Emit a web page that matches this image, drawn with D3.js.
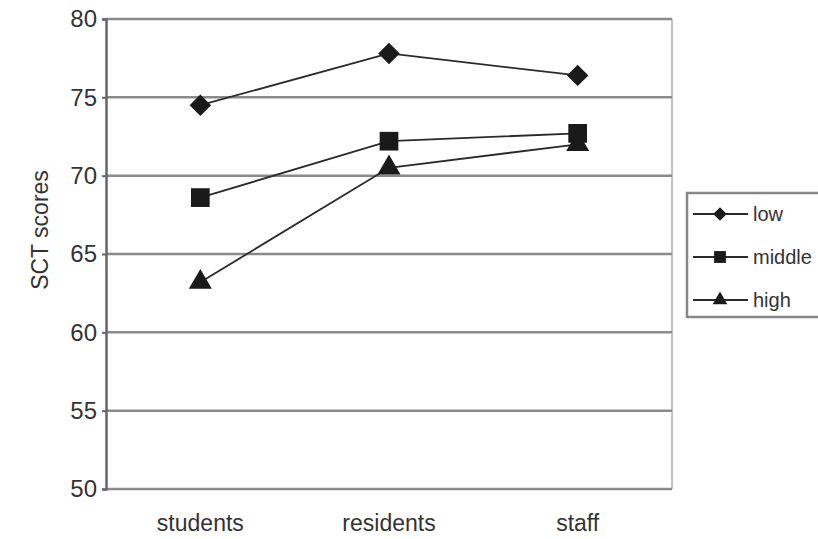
<!DOCTYPE html>
<html>
<head>
<meta charset="utf-8">
<script src="https://cdn.jsdelivr.net/npm/d3@7"></script>
<style>
  body { margin: 0; background: #fff; }
  text { font-family: "Liberation Sans", Arial, sans-serif; fill: #333; }
</style>
</head>
<body>
<div class="chart"></div>
<script>
// data
var groups = ["students", "residents", "staff"];
var seriesNames = ["low", "middle", "high"];
var lowScores = [74.5, 77.8, 76.4];
var middleScores = [68.6, 72.2, 72.7];
var highScores = [63.2, 70.5, 72.0];
var yTicks = [50, 55, 60, 65, 70, 75, 80];

// diamond = square turned 45 degrees
var series = [
    { name: seriesNames[0], values: lowScores, shape: d3.symbolSquare, size: 230, rot: 45 },
    { name: seriesNames[1], values: middleScores, shape: d3.symbolSquare, size: 350, rot: 0 },
    { name: seriesNames[2], values: highScores, shape: d3.symbolTriangle, size: 230, rot: 0 }
];

var width = 818, height = 539;
var margin = { top: 19, right: 146, bottom: 50, left: 106 };
var plotW = width - margin.left - margin.right,
    plotH = height - margin.top - margin.bottom;

var svg = d3.select(".chart")
    .append("svg")
    .attr("width", width)
    .attr("height", height);

var g = svg.append("g")
    .attr("transform", "translate(" + margin.left + "," + margin.top + ")");

var x = d3.scaleBand()
    .domain(groups)
    .range([0, plotW]);

var y = d3.scaleLinear()
    .domain([50, 80])
    .range([plotH, 0]);

// right border of plot area
g.append("line")
    .attr("x1", plotW).attr("x2", plotW)
    .attr("y1", 0).attr("y2", plotH)
    .attr("stroke", "#c4c4c4")
    .attr("stroke-width", 2);

// gridlines
g.selectAll(".grid")
    .data(yTicks)
    .enter()
    .append("line")
    .attr("class", "grid")
    .attr("x1", 0).attr("x2", plotW)
    .attr("y1", function (d) { return y(d); })
    .attr("y2", function (d) { return y(d); })
    .attr("stroke", "#8a8a8a")
    .attr("stroke-width", 2.5);

// y axis
var yAxis = g.append("g")
    .call(d3.axisLeft(y).tickValues(yTicks).tickSize(4).tickPadding(5));
yAxis.select(".domain").attr("stroke", "#666").attr("stroke-width", 2.5);
yAxis.selectAll(".tick line").attr("stroke", "#666").attr("stroke-width", 2);
yAxis.selectAll("text")
    .style("font-size", "24px")
    .attr("fill", "#333");

// x axis labels
var xAxis = g.append("g")
    .attr("transform", "translate(0," + plotH + ")")
    .call(d3.axisBottom(x).tickSize(0).tickPadding(26));
xAxis.select(".domain").remove();
xAxis.selectAll("text")
    .style("font-size", "23px")
    .attr("fill", "#333");

// y axis title
svg.append("text")
    .attr("transform", "translate(48," + (margin.top + plotH / 2 - 24) + ") rotate(-90)")
    .attr("text-anchor", "middle")
    .style("font-size", "23px")
    .text("SCT scores");

var line = d3.line()
    .x(function (d, i) { return x(groups[i]) + x.bandwidth() / 2; })
    .y(function (d) { return y(d); });

// lines and markers
series.forEach(function (s) {
    g.append("path")
        .datum(s.values)
        .attr("d", line)
        .attr("fill", "none")
        .attr("stroke", "#2a2a2a")
        .attr("stroke-width", 1.8);

    g.selectAll(".m-" + s.name)
        .data(s.values)
        .enter()
        .append("path")
        .attr("class", "m-" + s.name)
        .attr("d", d3.symbol().type(s.shape).size(s.size))
        .attr("transform", function (d, i) {
            return "translate(" + (x(groups[i]) + x.bandwidth() / 2) + "," + y(d) + ") rotate(" + s.rot + ")";
        })
        .attr("fill", "#1a1a1a");
});

// legend
var legend = svg.append("g")
    .attr("transform", "translate(687,193)");

legend.append("rect")
    .attr("width", 140)
    .attr("height", 124)
    .attr("fill", "#fff")
    .attr("stroke", "#888")
    .attr("stroke-width", 2.5);

var item = legend.selectAll(".legend")
    .data(series)
    .enter()
    .append("g")
    .attr("class", "legend")
    .attr("transform", function (d, i) { return "translate(0," + (21 + i * 43) + ")"; });

item.append("line")
    .attr("x1", 6).attr("x2", 61)
    .attr("stroke", "#2a2a2a")
    .attr("stroke-width", 1.8);

item.append("path")
    .attr("d", function (d) { return d3.symbol().type(d.shape).size(d.size * 0.4)(); })
    .attr("transform", function (d) { return "translate(33,0) rotate(" + d.rot + ")"; })
    .attr("fill", "#1a1a1a");

item.append("text")
    .attr("x", 66)
    .attr("dy", "0.35em")
    .style("font-size", "20px")
    .text(function (d) { return d.name; });
</script>
</body>
</html>
